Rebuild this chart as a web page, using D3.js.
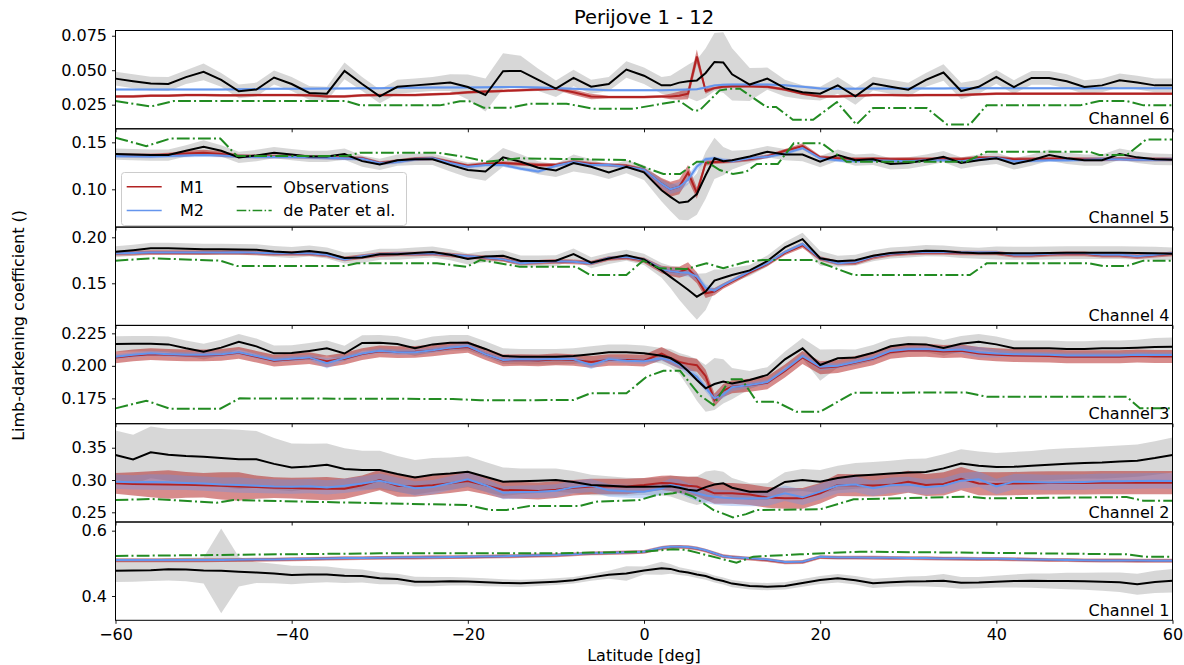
<!DOCTYPE html>
<html>
<head>
<meta charset="utf-8">
<script src="https://cdn.jsdelivr.net/npm/d3@7"></script>
<style>
  html, body { margin: 0; padding: 0; background: #fff; }
  svg text { font-family: "DejaVu Sans", sans-serif; fill: #000; }
</style>
</head>
<body>
<svg id="chart" width="1184" height="665"></svg>
<script>
// Latitude grid shared by observations and both models (deg)
const lat = [-60,-58,-56,-54,-52,-50,-48,-46,-44,-42,
             -40,-38,-36,-34,-32,-30,-28,-26,-24,-22,
             -20,-18,-16,-14,-12,-10,-8,-6,-4,-2,
             0,2,3,4,5,6,7,8,9,10,
             12,14,16,18,20,22,24,26,28,30,
             32,34,36,38,40,42,44,46,48,50,
             52,54,56,58,60];

// ---------------- Channel 6 ----------------
const ch6Obs = [0.0439,0.042,0.0403,0.040,0.045,0.0488,0.043,0.0347,0.036,0.0447,
  0.040,0.0335,0.033,0.0495,0.040,0.031,0.038,0.039,0.040,0.041,
  0.0378,0.032,0.0493,0.0495,0.043,0.0366,0.0444,0.038,0.040,0.0505,
  0.046,0.039,0.039,0.041,0.042,0.0425,0.048,0.056,0.0556,0.047,
  0.0396,0.0439,0.037,0.034,0.033,0.039,0.031,0.0403,0.038,0.0359,
  0.043,0.0483,0.0349,0.038,0.0451,0.0378,0.0444,0.0444,0.042,0.0378,
  0.039,0.0427,0.041,0.039,0.039];
const ch6ObsErr = [0.005,0.005,0.005,0.005,0.005,0.006,0.005,0.005,0.005,0.005,
  0.005,0.005,0.005,0.006,0.005,0.005,0.005,0.005,0.005,0.006,
  0.009,0.012,0.013,0.011,0.008,0.006,0.006,0.005,0.005,0.006,
  0.006,0.006,0.007,0.009,0.012,0.015,0.018,0.021,0.022,0.019,
  0.012,0.008,0.006,0.005,0.005,0.006,0.006,0.005,0.005,0.005,
  0.005,0.006,0.006,0.005,0.005,0.005,0.005,0.005,0.005,0.005,
  0.005,0.005,0.005,0.005,0.005];
const ch6M1 = [0.031,0.031,0.0315,0.0315,0.032,0.032,0.0318,0.0318,0.032,0.032,
  0.032,0.0318,0.031,0.031,0.0318,0.032,0.032,0.032,0.0325,0.033,
  0.034,0.0345,0.035,0.0355,0.036,0.0366,0.034,0.031,0.0305,0.0305,
  0.0305,0.031,0.031,0.0315,0.033,0.060,0.035,0.037,0.038,0.0383,
  0.0383,0.038,0.036,0.033,0.031,0.031,0.0315,0.032,0.032,0.0318,
  0.032,0.032,0.032,0.0325,0.033,0.033,0.033,0.033,0.033,0.033,
  0.033,0.033,0.033,0.033,0.033];
const ch6M1Err = [0.001,0.001,0.001,0.001,0.001,0.001,0.001,0.001,0.001,0.001,
  0.001,0.001,0.001,0.001,0.001,0.001,0.001,0.001,0.001,0.001,
  0.001,0.001,0.001,0.001,0.001,0.001,0.002,0.002,0.001,0.001,
  0.001,0.001,0.002,0.003,0.004,0.005,0.002,0.001,0.001,0.001,
  0.001,0.001,0.001,0.001,0.001,0.001,0.001,0.001,0.001,0.001,
  0.001,0.001,0.001,0.001,0.001,0.001,0.001,0.001,0.001,0.001,
  0.001,0.001,0.001,0.001,0.001];
const ch6M2 = [0.036,0.036,0.036,0.036,0.036,0.036,0.036,0.0362,0.0363,0.0365,
  0.0365,0.0366,0.0367,0.0368,0.037,0.037,0.0372,0.0373,0.0374,0.0375,
  0.0375,0.0376,0.0378,0.0378,0.0375,0.037,0.0365,0.036,0.0355,0.0355,
  0.0355,0.0355,0.0356,0.0358,0.036,0.0362,0.0375,0.039,0.0395,0.0396,
  0.0396,0.0396,0.039,0.038,0.0368,0.0366,0.0366,0.0367,0.0367,0.0368,
  0.0368,0.0368,0.0369,0.037,0.037,0.037,0.037,0.037,0.037,0.037,
  0.037,0.037,0.037,0.037,0.037];
const ch6M2Err = lat.map(() => 0.0008);
const ch6DePaterLat = [-60,-56,-53.4,-33.8,-32.2,-23.2,-20.9,-19.8,-18.2,-15.2,-13,-8.8,-5.8,-1.2,1,3.7,4.1,5.6,6.3,8.6,9.75,10.9,13.9,15,16.9,19.2,21.9,24.1,26,32.1,34.4,37,38.9,49.5,51.7,54.8,56.7,60];
const ch6DePater = [0.0276,0.0237,0.0276,0.0276,0.0245,0.0245,0.0274,0.0274,0.0228,0.0228,0.0257,0.0257,0.0221,0.0221,0.0245,0.0274,0.0274,0.0208,0.0208,0.0354,0.0366,0.0366,0.0233,0.0233,0.0141,0.0141,0.0269,0.0106,0.0225,0.0225,0.0106,0.0106,0.0245,0.0245,0.0276,0.0276,0.0245,0.0245];

// ---------------- Channel 5 ----------------
const ch5Obs = [0.1375,0.137,0.1365,0.1365,0.141,0.1453,0.141,0.134,0.136,0.139,
  0.137,0.135,0.135,0.1375,0.130,0.1265,0.131,0.132,0.132,0.126,
  0.1205,0.119,0.134,0.1294,0.123,0.120,0.128,0.124,0.118,0.124,
  0.118,0.099,0.092,0.0857,0.087,0.095,0.115,0.133,0.130,0.131,
  0.135,0.140,0.137,0.137,0.1294,0.1365,0.131,0.132,0.127,0.128,
  0.131,0.1347,0.128,0.131,0.133,0.127,0.131,0.1365,0.133,0.131,
  0.131,0.1375,0.134,0.132,0.1315];
const ch5ObsErr = [0.006,0.006,0.006,0.006,0.006,0.007,0.006,0.006,0.006,0.006,
  0.006,0.006,0.006,0.006,0.006,0.006,0.006,0.006,0.006,0.007,
  0.008,0.010,0.010,0.008,0.007,0.007,0.009,0.008,0.007,0.007,
  0.008,0.012,0.015,0.018,0.020,0.022,0.025,0.022,0.015,0.010,
  0.007,0.006,0.006,0.007,0.006,0.006,0.006,0.006,0.006,0.006,
  0.006,0.006,0.006,0.006,0.006,0.006,0.006,0.006,0.006,0.006,
  0.006,0.006,0.006,0.006,0.006];
const ch5M1 = [0.1365,0.1362,0.136,0.137,0.138,0.139,0.1375,0.1355,0.135,0.135,
  0.135,0.1345,0.134,0.1335,0.133,0.128,0.130,0.1325,0.133,0.129,
  0.125,0.127,0.128,0.127,0.126,0.126,0.1294,0.127,0.126,0.125,
  0.121,0.106,0.100,0.1028,0.118,0.096,0.128,0.129,0.1294,0.130,
  0.132,0.135,0.141,0.146,0.134,0.133,0.132,0.1325,0.132,0.132,
  0.132,0.1325,0.132,0.1335,0.1335,0.132,0.132,0.1325,0.1325,0.132,
  0.132,0.1325,0.132,0.132,0.1318];
const ch5M1Err = [0.002,0.002,0.002,0.002,0.003,0.003,0.003,0.002,0.002,0.002,
  0.002,0.002,0.002,0.002,0.002,0.002,0.002,0.002,0.002,0.002,
  0.002,0.002,0.002,0.002,0.002,0.002,0.002,0.002,0.002,0.002,
  0.002,0.006,0.008,0.008,0.008,0.006,0.003,0.002,0.002,0.002,
  0.002,0.002,0.002,0.003,0.002,0.002,0.002,0.002,0.002,0.002,
  0.002,0.002,0.002,0.002,0.002,0.002,0.002,0.002,0.002,0.002,
  0.002,0.002,0.002,0.002,0.002];
const ch5M2 = [0.1354,0.1352,0.135,0.1355,0.136,0.1365,0.136,0.135,0.1345,0.1345,
  0.1345,0.134,0.1335,0.133,0.1325,0.1277,0.129,0.132,0.133,0.128,
  0.124,0.126,0.126,0.122,0.119,0.125,0.129,0.126,0.126,0.124,
  0.121,0.106,0.100,0.1028,0.110,0.124,0.132,0.133,0.131,0.130,
  0.133,0.1347,0.138,0.144,0.133,0.131,0.130,0.131,0.1305,0.130,
  0.131,0.131,0.130,0.132,0.1335,0.130,0.1305,0.131,0.131,0.1315,
  0.132,0.132,0.1315,0.1315,0.1318];
const ch5M2Err = [0.002,0.002,0.002,0.002,0.002,0.002,0.002,0.002,0.002,0.002,
  0.002,0.002,0.002,0.002,0.002,0.002,0.002,0.002,0.002,0.002,
  0.002,0.002,0.002,0.002,0.002,0.002,0.002,0.002,0.002,0.002,
  0.002,0.004,0.005,0.005,0.005,0.004,0.002,0.002,0.002,0.002,
  0.002,0.002,0.002,0.002,0.002,0.002,0.002,0.002,0.002,0.002,
  0.002,0.002,0.002,0.002,0.002,0.002,0.002,0.002,0.002,0.002,
  0.002,0.002,0.002,0.002,0.002];
const ch5DePaterLat = [-60,-56.5,-53.8,-48.1,-46.2,-33.8,-32.2,-23.5,-20.1,-17.9,-14.1,-2,-0.1,2.2,4.1,6,7.1,8.6,10.1,11.6,12.8,15.2,17,20.2,23,36.6,38.9,50.6,51.7,54.8,57,60];
const ch5DePater = [0.1549,0.146,0.154,0.154,0.1354,0.1354,0.139,0.139,0.134,0.1294,0.133,0.1312,0.124,0.1163,0.1163,0.1294,0.1294,0.1205,0.1163,0.1187,0.127,0.127,0.149,0.149,0.1294,0.1294,0.140,0.140,0.1365,0.1365,0.153,0.153];

// ---------------- Channel 4 ----------------
const ch4Obs = [0.1843,0.186,0.188,0.188,0.1875,0.187,0.187,0.1868,0.1865,0.1845,
  0.1835,0.185,0.183,0.1775,0.178,0.1815,0.1815,0.183,0.184,0.181,
  0.1765,0.179,0.180,0.1742,0.1742,0.1745,0.1818,0.1724,0.177,0.1804,
  0.176,0.164,0.157,0.150,0.143,0.1354,0.141,0.153,0.156,0.159,
  0.164,0.1742,0.189,0.198,0.1772,0.174,0.175,0.180,0.183,0.184,
  0.1855,0.185,0.1835,0.1826,0.183,0.1826,0.1826,0.183,0.1833,0.1833,
  0.1833,0.1833,0.183,0.1826,0.182];
const ch4ObsErr = [0.006,0.006,0.006,0.006,0.006,0.006,0.006,0.006,0.006,0.006,
  0.006,0.006,0.006,0.006,0.006,0.006,0.006,0.006,0.006,0.006,
  0.006,0.006,0.006,0.006,0.006,0.006,0.006,0.006,0.006,0.006,
  0.006,0.008,0.012,0.018,0.022,0.025,0.020,0.012,0.009,0.008,
  0.006,0.006,0.006,0.007,0.008,0.006,0.006,0.006,0.006,0.006,
  0.006,0.006,0.006,0.006,0.007,0.007,0.007,0.007,0.007,0.007,
  0.007,0.007,0.007,0.007,0.007];
const ch4M1 = [0.1826,0.1828,0.1833,0.1833,0.1833,0.1833,0.1835,0.1836,0.183,0.1824,
  0.1824,0.1824,0.1808,0.1765,0.179,0.1812,0.1818,0.1818,0.1824,0.1808,
  0.1792,0.1778,0.1758,0.172,0.1728,0.1738,0.1733,0.172,0.177,0.178,
  0.175,0.165,0.163,0.162,0.166,0.156,0.1391,0.141,0.147,0.152,
  0.162,0.171,0.183,0.1913,0.177,0.172,0.1725,0.1785,0.1815,0.183,
  0.1835,0.1835,0.183,0.183,0.183,0.1805,0.1805,0.1815,0.182,0.182,
  0.1805,0.1805,0.179,0.1805,0.182];
const ch4M1Err = [0.0025,0.0025,0.0025,0.0025,0.0025,0.0025,0.0025,0.0025,0.0025,0.0025,
  0.0025,0.0025,0.0025,0.0025,0.0025,0.0025,0.0025,0.0025,0.0025,0.0025,
  0.0025,0.0025,0.0025,0.0025,0.0025,0.0025,0.0025,0.0025,0.0025,0.0025,
  0.003,0.004,0.005,0.006,0.007,0.006,0.005,0.004,0.003,0.003,
  0.0025,0.0025,0.0025,0.003,0.0025,0.0025,0.0025,0.0025,0.0025,0.0025,
  0.0025,0.0025,0.0025,0.0025,0.0025,0.0025,0.0025,0.0025,0.0025,0.0025,
  0.0025,0.0025,0.0025,0.0025,0.0025];
const ch4M2 = [0.1826,0.183,0.1835,0.1835,0.1835,0.1835,0.1836,0.1837,0.1832,0.1826,
  0.1826,0.1826,0.181,0.176,0.1795,0.1815,0.182,0.182,0.1826,0.181,
  0.1794,0.178,0.176,0.1717,0.173,0.174,0.1735,0.1717,0.1775,0.1785,
  0.1756,0.1655,0.163,0.162,0.1615,0.1572,0.145,0.142,0.148,0.153,
  0.163,0.1717,0.184,0.1927,0.1772,0.1717,0.173,0.179,0.182,0.1835,
  0.184,0.184,0.1835,0.1835,0.1835,0.181,0.181,0.182,0.1826,0.1826,
  0.181,0.181,0.1795,0.181,0.1826];
const ch4M2Err = [0.0015,0.0015,0.0015,0.0015,0.0015,0.0015,0.0015,0.0015,0.0015,0.0015,
  0.0015,0.0015,0.0015,0.0015,0.0015,0.0015,0.0015,0.0015,0.0015,0.0015,
  0.0015,0.0015,0.0015,0.0015,0.0015,0.0015,0.0015,0.0015,0.0015,0.0015,
  0.002,0.003,0.003,0.004,0.004,0.004,0.004,0.003,0.002,0.002,
  0.0015,0.0015,0.0015,0.002,0.0015,0.0015,0.0015,0.0015,0.0015,0.0015,
  0.0015,0.0015,0.0015,0.0015,0.0015,0.0015,0.0015,0.0015,0.0015,0.0015,
  0.0015,0.0015,0.0015,0.0015,0.0015];
const ch4DePaterLat = [-60,-55.7,-48.1,-46.2,-34.1,-32.6,-23.5,-20.1,-18.6,-14.1,-7.7,-6.1,-2,-0.1,1.8,4.8,7.1,9,11.6,13.5,19.2,23.8,37,38.9,50.6,52.1,54.8,56.7,60];
const ch4DePater = [0.1746,0.1772,0.1746,0.1688,0.1688,0.1717,0.1717,0.168,0.1753,0.168,0.168,0.159,0.159,0.1746,0.1663,0.1655,0.1717,0.1663,0.1735,0.1753,0.1753,0.159,0.159,0.1717,0.1717,0.1688,0.1688,0.1746,0.1746];

// ---------------- Channel 3 ----------------
const ch3Obs = [0.2168,0.217,0.217,0.2165,0.2135,0.2109,0.214,0.2185,0.215,0.2096,
  0.2098,0.2115,0.2135,0.2095,0.2176,0.2178,0.2168,0.2135,0.2165,0.2178,
  0.2178,0.213,0.2075,0.207,0.207,0.207,0.2075,0.209,0.2105,0.2105,
  0.2096,0.2078,0.206,0.2019,0.196,0.1891,0.1827,0.186,0.188,0.1864,
  0.1891,0.193,0.205,0.2135,0.2006,0.2058,0.2065,0.210,0.215,0.2168,
  0.2165,0.2138,0.217,0.2185,0.2165,0.2135,0.2135,0.2135,0.213,0.213,
  0.2135,0.2135,0.214,0.2145,0.2147];
const ch3ObsErr = [0.006,0.006,0.006,0.006,0.006,0.006,0.006,0.006,0.006,0.006,
  0.006,0.006,0.006,0.006,0.006,0.006,0.006,0.006,0.006,0.006,
  0.006,0.006,0.006,0.006,0.006,0.006,0.006,0.006,0.006,0.006,
  0.006,0.006,0.007,0.008,0.012,0.016,0.018,0.020,0.017,0.012,
  0.007,0.006,0.006,0.008,0.012,0.007,0.006,0.006,0.006,0.006,
  0.006,0.006,0.006,0.006,0.006,0.006,0.006,0.006,0.006,0.006,
  0.006,0.006,0.006,0.007,0.007];
const ch3M1 = [0.2065,0.208,0.209,0.2085,0.208,0.208,0.2085,0.210,0.207,0.204,
  0.205,0.206,0.2035,0.2055,0.209,0.2112,0.2105,0.2108,0.2118,0.2135,
  0.2145,0.209,0.2042,0.2045,0.2042,0.205,0.2045,0.203,0.2045,0.2045,
  0.204,0.2095,0.206,0.203,0.2015,0.2005,0.192,0.1737,0.181,0.184,
  0.185,0.187,0.196,0.2065,0.1985,0.1995,0.2025,0.2055,0.2105,0.2118,
  0.212,0.211,0.2115,0.2095,0.2085,0.208,0.2078,0.2075,0.207,0.207,
  0.207,0.207,0.2075,0.2072,0.2072];
const ch3M1Err = [0.0045,0.0045,0.0045,0.0045,0.0045,0.0045,0.0045,0.0045,0.0045,0.0045,
  0.0045,0.0045,0.0045,0.0045,0.0045,0.0045,0.0045,0.0045,0.0045,0.0045,
  0.0045,0.0045,0.0045,0.0045,0.0045,0.0045,0.0045,0.0045,0.0045,0.0045,
  0.0045,0.005,0.005,0.005,0.005,0.005,0.005,0.005,0.005,0.005,
  0.005,0.005,0.005,0.005,0.005,0.005,0.005,0.005,0.005,0.005,
  0.005,0.005,0.005,0.005,0.005,0.005,0.005,0.005,0.005,0.005,
  0.005,0.005,0.005,0.005,0.005];
const ch3M2 = [0.207,0.2085,0.2096,0.209,0.2085,0.2085,0.209,0.2105,0.2075,0.2045,
  0.2055,0.2065,0.202,0.206,0.2095,0.2116,0.2105,0.2105,0.212,0.214,
  0.2152,0.209,0.2045,0.205,0.2048,0.2055,0.205,0.2006,0.205,0.204,
  0.2035,0.2058,0.204,0.201,0.196,0.1916,0.183,0.175,0.178,0.1835,
  0.1852,0.1875,0.197,0.2075,0.1994,0.200,0.203,0.206,0.2115,0.2127,
  0.213,0.212,0.2125,0.2105,0.2095,0.209,0.2088,0.2085,0.208,0.208,
  0.208,0.208,0.2085,0.2083,0.2083];
const ch3M2Err = [0.002,0.002,0.002,0.002,0.002,0.002,0.002,0.002,0.002,0.002,
  0.002,0.002,0.004,0.002,0.002,0.002,0.002,0.002,0.002,0.002,
  0.002,0.002,0.002,0.002,0.002,0.002,0.002,0.003,0.002,0.002,
  0.002,0.002,0.003,0.003,0.003,0.003,0.003,0.003,0.003,0.003,
  0.002,0.002,0.002,0.002,0.003,0.002,0.002,0.002,0.002,0.002,
  0.002,0.002,0.003,0.004,0.003,0.002,0.002,0.002,0.002,0.002,
  0.002,0.002,0.002,0.002,0.002];
const ch3DePaterLat = [-60,-56.5,-53.8,-48.1,-45.9,-21.7,-18.6,-8,-6.1,-2,0.3,2.2,4.1,6.3,7.9,9.75,11.1,12.8,15,17.3,20,23.8,36.6,38.9,54.8,56.3,60];
const ch3DePater = [0.1673,0.1732,0.167,0.167,0.175,0.1745,0.1735,0.1737,0.1789,0.1789,0.1916,0.1962,0.1962,0.1776,0.1699,0.1896,0.1896,0.1724,0.1724,0.1647,0.1647,0.1793,0.1795,0.1762,0.1762,0.1673,0.1673];

// ---------------- Channel 2 ----------------
const ch2Obs = [0.3387,0.332,0.3429,0.339,0.337,0.336,0.334,0.332,0.332,0.325,
  0.3195,0.321,0.3237,0.317,0.3155,0.3155,0.3093,0.304,0.308,0.310,
  0.3129,0.305,0.2974,0.298,0.299,0.300,0.297,0.2923,0.291,0.2897,
  0.2897,0.290,0.2905,0.288,0.285,0.2835,0.289,0.293,0.2948,0.288,
  0.2819,0.282,0.297,0.300,0.2974,0.303,0.3065,0.308,0.310,0.3115,
  0.3125,0.318,0.3255,0.322,0.320,0.3205,0.322,0.3235,0.325,0.3265,
  0.327,0.3285,0.330,0.334,0.3387];
const ch2ObsErr = [0.038,0.038,0.040,0.040,0.042,0.043,0.045,0.046,0.044,0.040,
  0.037,0.035,0.033,0.032,0.030,0.030,0.028,0.027,0.026,0.025,
  0.024,0.023,0.022,0.020,0.019,0.018,0.017,0.016,0.015,0.014,
  0.013,0.014,0.016,0.018,0.020,0.022,0.024,0.022,0.018,0.015,
  0.013,0.013,0.015,0.017,0.018,0.019,0.020,0.020,0.020,0.021,
  0.021,0.022,0.022,0.022,0.022,0.023,0.023,0.024,0.024,0.024,
  0.025,0.025,0.025,0.026,0.027];
const ch2M1 = [0.2949,0.294,0.2935,0.293,0.2925,0.292,0.291,0.290,0.289,0.2881,
  0.2875,0.287,0.2865,0.2865,0.292,0.300,0.291,0.290,0.292,0.295,
  0.2985,0.292,0.2845,0.284,0.283,0.285,0.288,0.290,0.290,0.290,
  0.2922,0.2955,0.295,0.293,0.291,0.290,0.285,0.2794,0.2794,0.2794,
  0.2775,0.273,0.2717,0.2717,0.2795,0.2922,0.292,0.2915,0.2925,0.2974,
  0.2922,0.294,0.302,0.2945,0.294,0.2945,0.295,0.2955,0.2955,0.2955,
  0.2958,0.2958,0.2958,0.2959,0.2959];
const ch2M1Err = [0.016,0.018,0.020,0.022,0.020,0.019,0.021,0.022,0.018,0.016,
  0.016,0.017,0.018,0.016,0.015,0.016,0.017,0.016,0.015,0.015,
  0.015,0.014,0.013,0.013,0.013,0.013,0.012,0.012,0.012,0.012,
  0.011,0.011,0.012,0.013,0.014,0.015,0.016,0.016,0.016,0.016,
  0.016,0.016,0.016,0.016,0.016,0.017,0.017,0.017,0.017,0.017,
  0.017,0.018,0.018,0.018,0.018,0.018,0.018,0.018,0.018,0.018,
  0.018,0.018,0.018,0.018,0.018];
const ch2M2 = [0.2974,0.2965,0.297,0.2965,0.2955,0.2945,0.293,0.2923,0.291,0.290,
  0.2897,0.2905,0.2885,0.291,0.2945,0.299,0.293,0.2871,0.289,0.295,
  0.301,0.292,0.2804,0.2815,0.282,0.2835,0.289,0.2915,0.284,0.2825,
  0.2819,0.287,0.2923,0.290,0.284,0.2794,0.276,0.274,0.2725,0.2717,
  0.2715,0.2717,0.2795,0.2732,0.282,0.2915,0.293,0.2871,0.292,0.293,
  0.289,0.291,0.299,0.301,0.290,0.2975,0.297,0.296,0.2965,0.297,
  0.298,0.298,0.2985,0.299,0.2984];
const ch2M2Err = [0.011,0.011,0.012,0.012,0.011,0.011,0.011,0.012,0.011,0.011,
  0.011,0.011,0.011,0.011,0.011,0.011,0.011,0.011,0.011,0.011,
  0.011,0.010,0.010,0.010,0.010,0.010,0.010,0.010,0.010,0.010,
  0.010,0.010,0.010,0.011,0.011,0.012,0.012,0.012,0.012,0.012,
  0.012,0.012,0.012,0.012,0.012,0.012,0.012,0.012,0.012,0.012,
  0.012,0.012,0.012,0.012,0.012,0.012,0.012,0.012,0.012,0.012,
  0.012,0.012,0.012,0.012,0.012];
const ch2DePaterLat = [-60,-56,-48.5,-46.6,-30,-20.1,-17.5,-15.6,-13,-7.3,-5.4,-0.5,1.4,3.3,4.1,5.6,7.9,10.1,11.6,12.8,20,23.8,37,38.9,54.8,56.7,60];
const ch2DePater = [0.269,0.2707,0.2649,0.269,0.264,0.2613,0.2536,0.2536,0.2598,0.2598,0.2665,0.269,0.2768,0.2794,0.2819,0.2742,0.2536,0.2422,0.2472,0.2536,0.2546,0.2701,0.2742,0.2716,0.2736,0.268,0.268];

// ---------------- Channel 1 ----------------
const ch1Obs = [0.4775,0.478,0.479,0.4818,0.481,0.478,0.477,0.4744,0.472,0.469,
  0.4643,0.466,0.466,0.462,0.461,0.4542,0.452,0.4438,0.444,0.445,
  0.4445,0.442,0.440,0.4388,0.441,0.444,0.448,0.457,0.465,0.469,
  0.478,0.4848,0.483,0.476,0.472,0.466,0.461,0.452,0.446,0.438,
  0.431,0.4285,0.431,0.440,0.449,0.4542,0.448,0.4388,0.442,0.4445,
  0.445,0.447,0.4405,0.441,0.444,0.446,0.447,0.446,0.446,0.445,
  0.444,0.442,0.436,0.443,0.4469];
const ch1ObsErr = [0.035,0.034,0.033,0.034,0.036,0.040,0.130,0.045,0.032,0.030,
  0.028,0.026,0.024,0.022,0.020,0.018,0.016,0.015,0.014,0.013,
  0.012,0.012,0.011,0.011,0.010,0.010,0.010,0.010,0.012,0.022,
  0.012,0.020,0.015,0.012,0.011,0.011,0.011,0.011,0.011,0.011,
  0.011,0.011,0.011,0.012,0.012,0.013,0.013,0.014,0.014,0.015,
  0.016,0.020,0.018,0.017,0.018,0.020,0.022,0.023,0.025,0.026,
  0.028,0.030,0.032,0.034,0.036];
const ch1M1 = [0.5095,0.5095,0.5095,0.5095,0.5095,0.5095,0.5098,0.5103,0.511,0.5115,
  0.5125,0.5135,0.5145,0.5155,0.516,0.5168,0.5175,0.518,0.5185,0.519,
  0.5195,0.5205,0.5215,0.5225,0.524,0.525,0.5275,0.5305,0.5315,0.533,
  0.535,0.547,0.550,0.5505,0.5495,0.5455,0.539,0.530,0.5215,0.519,
  0.5145,0.5105,0.503,0.504,0.519,0.5175,0.5175,0.517,0.5165,0.516,
  0.5155,0.5145,0.514,0.5135,0.5135,0.5125,0.5115,0.5105,0.51,0.509,
  0.5085,0.5085,0.508,0.5078,0.5077];
const ch1M1Err = lat.map(() => 0.006);
const ch1M2 = [0.5103,0.5103,0.5103,0.5103,0.5103,0.5103,0.5105,0.511,0.5115,0.512,
  0.513,0.514,0.515,0.516,0.5165,0.5173,0.518,0.5185,0.519,0.5195,
  0.520,0.521,0.522,0.523,0.5245,0.5255,0.528,0.531,0.532,0.5335,
  0.5357,0.548,0.551,0.551,0.550,0.546,0.540,0.531,0.522,0.519,
  0.5155,0.512,0.504,0.505,0.520,0.518,0.518,0.5175,0.517,0.5165,
  0.516,0.515,0.5145,0.514,0.514,0.513,0.512,0.511,0.5105,0.5095,
  0.509,0.509,0.5085,0.5083,0.5082];
const ch1M2Err = lat.map(() => 0.004);
const ch1DePaterLat = [-60,-40,-30,-20,-10,0,3.3,4.8,7.1,10.5,12.4,17.7,24.5,40,54.8,56.7,60];
const ch1DePater = [0.5225,0.528,0.5306,0.5306,0.531,0.5357,0.543,0.5415,0.5255,0.502,0.5204,0.5276,0.5357,0.532,0.5276,0.5204,0.5204];

// Axis settings per panel (top to bottom)
const channelNames = ["Channel 6","Channel 5","Channel 4","Channel 3","Channel 2","Channel 1"];
const yDomains = [[0.0075,0.0788],[0.0598,0.1644],[0.1042,0.2111],[0.1555,0.2311],[0.235,0.3872],[0.3256,0.6266]];
const yTicks = [[0.025,0.05,0.075],[0.10,0.15],[0.15,0.20],[0.175,0.2,0.225],[0.25,0.30,0.35],[0.4,0.6]];
const yFormats = [".3f",".2f",".2f",".3f",".2f",".1f"];
const xTicks = [-60,-40,-20,0,20,40,60];

const series = [
  {obs: ch6Obs, obsErr: ch6ObsErr, m1: ch6M1, m1Err: ch6M1Err, m2: ch6M2, m2Err: ch6M2Err, dpLat: ch6DePaterLat, dp: ch6DePater},
  {obs: ch5Obs, obsErr: ch5ObsErr, m1: ch5M1, m1Err: ch5M1Err, m2: ch5M2, m2Err: ch5M2Err, dpLat: ch5DePaterLat, dp: ch5DePater},
  {obs: ch4Obs, obsErr: ch4ObsErr, m1: ch4M1, m1Err: ch4M1Err, m2: ch4M2, m2Err: ch4M2Err, dpLat: ch4DePaterLat, dp: ch4DePater},
  {obs: ch3Obs, obsErr: ch3ObsErr, m1: ch3M1, m1Err: ch3M1Err, m2: ch3M2, m2Err: ch3M2Err, dpLat: ch3DePaterLat, dp: ch3DePater},
  {obs: ch2Obs, obsErr: ch2ObsErr, m1: ch2M1, m1Err: ch2M1Err, m2: ch2M2, m2Err: ch2M2Err, dpLat: ch2DePaterLat, dp: ch2DePater},
  {obs: ch1Obs, obsErr: ch1ObsErr, m1: ch1M1, m1Err: ch1M1Err, m2: ch1M2, m2Err: ch1M2Err, dpLat: ch1DePaterLat, dp: ch1DePater}
];

const colors = {m1: "#b22222", m2: "#6495ed", obs: "#000000", dp: "#228b22", obsBand: "#d3d3d3"};

// Figure geometry
const plotLeft = 115.5, plotRight = 1172.5, plotTop = 30.5, plotBottom = 620.3;
const panelH = (plotBottom - plotTop) / series.length;

const svg = d3.select("#chart");
const x = d3.scaleLinear().domain([-60, 60]).range([plotLeft, plotRight]);
const fmtMinus = s => s.replace("-", "\u2212");

series.forEach((s, i) => {
  const top = plotTop + i * panelH;
  const y = d3.scaleLinear().domain(yDomains[i]).range([top + panelH, top]);
  const g = svg.append("g");

  const clipId = "clip" + i;
  svg.append("clipPath").attr("id", clipId)
    .append("rect").attr("x", plotLeft).attr("y", top)
    .attr("width", plotRight - plotLeft).attr("height", panelH);

  const plot = g.append("g").attr("clip-path", `url(#${clipId})`);

  const band = (vals, errs) => d3.area()
    .x((d, k) => x(lat[k]))
    .y0((d, k) => y(vals[k] - errs[k]))
    .y1((d, k) => y(vals[k] + errs[k]))(lat);
  const line = vals => d3.line().x((d, k) => x(lat[k])).y((d, k) => y(vals[k]))(lat);

  // uncertainty envelopes
  plot.append("path").attr("d", band(s.obs, s.obsErr)).attr("fill", colors.obsBand).attr("fill-opacity", 0.9);
  plot.append("path").attr("d", band(s.m1, s.m1Err)).attr("fill", colors.m1).attr("fill-opacity", 0.52);
  plot.append("path").attr("d", band(s.m2, s.m2Err)).attr("fill", colors.m2).attr("fill-opacity", 0.35);

  // central curves
  plot.append("path").attr("d", line(s.m1)).attr("fill", "none").attr("stroke", colors.m1).attr("stroke-width", 2);
  plot.append("path").attr("d", line(s.m2)).attr("fill", "none").attr("stroke", colors.m2).attr("stroke-width", 2);
  plot.append("path").attr("d", line(s.obs)).attr("fill", "none").attr("stroke", colors.obs).attr("stroke-width", 2);
  plot.append("path")
    .attr("d", d3.line().x((d, k) => x(s.dpLat[k])).y(d => y(d))(s.dp))
    .attr("fill", "none").attr("stroke", colors.dp).attr("stroke-width", 2)
    .attr("stroke-dasharray", "12.8,3.2,2,3.2");

  // y axis
  const yAxis = d3.axisLeft(y).tickValues(yTicks[i]).tickSize(3.5).tickPadding(5)
    .tickFormat(d3.format(yFormats[i]));
  const ya = g.append("g").attr("transform", `translate(${plotLeft},0)`).call(yAxis);
  ya.select(".domain").remove();
  ya.selectAll("text").attr("font-size", 16).attr("font-family", "DejaVu Sans");
  ya.selectAll("line").attr("stroke-width", 0.9);

  // x axis ticks at each panel's bottom edge
  const xAxis = d3.axisBottom(x).tickValues(xTicks).tickSize(3.5).tickPadding(5)
    .tickFormat(i === series.length - 1 ? (d => fmtMinus(String(d))) : () => "");
  const xa = g.append("g").attr("transform", `translate(0,${top + panelH})`).call(xAxis);
  xa.select(".domain").remove();
  xa.selectAll("text").attr("font-size", 16).attr("font-family", "DejaVu Sans");
  xa.selectAll("line").attr("stroke-width", 0.9);

  // frame
  g.append("rect").attr("x", plotLeft).attr("y", top)
    .attr("width", plotRight - plotLeft).attr("height", panelH)
    .attr("fill", "none").attr("stroke", "#000").attr("stroke-width", 1);

  // channel label
  g.append("text").attr("x", plotRight - 3).attr("y", top + panelH - 4.5)
    .attr("text-anchor", "end").attr("font-size", 16).text(channelNames[i]);
});

// Title and axis labels
svg.append("text").attr("x", (plotLeft + plotRight) / 2).attr("y", 24)
  .attr("text-anchor", "middle").attr("font-size", 19.5).text("Perijove 1 - 12");
svg.append("text").attr("x", (plotLeft + plotRight) / 2).attr("y", 661)
  .attr("text-anchor", "middle").attr("font-size", 16).text("Latitude [deg]");
svg.append("text")
  .attr("transform", `translate(24,${(plotTop + plotBottom) / 2}) rotate(-90)`)
  .attr("text-anchor", "middle").attr("font-size", 16).text("Limb-darkening coefficient ()");

// Legend in the Channel 5 panel
const legendItems = [
  {label: "M1", color: colors.m1, dash: null, col: 0, row: 0},
  {label: "M2", color: colors.m2, dash: null, col: 0, row: 1},
  {label: "Observations", color: colors.obs, dash: null, col: 1, row: 0},
  {label: "de Pater et al.", color: colors.dp, dash: "9.6,2.4,1.5,2.4", col: 1, row: 1}
];
const lg = svg.append("g");
lg.append("rect").attr("x", 121.5).attr("y", 172.5).attr("width", 285).attr("height", 53)
  .attr("rx", 3).attr("fill", "#fff").attr("fill-opacity", 0.8)
  .attr("stroke", "#cccccc").attr("stroke-width", 1);
const colX = [126.7, 236.7];
const rowY = [186.7, 210.5];
legendItems.forEach(it => {
  const lx = colX[it.col], ly = rowY[it.row];
  const ln = lg.append("line").attr("x1", lx).attr("x2", lx + 35).attr("y1", ly).attr("y2", ly)
    .attr("stroke", it.color).attr("stroke-width", 1.5);
  if (it.dash) ln.attr("stroke-dasharray", it.dash);
  lg.append("text").attr("x", lx + (it.col === 0 ? 53.3 : 46.6)).attr("y", ly + 5.8)
    .attr("font-size", 16).text(it.label);
});
</script>
</body>
</html>
